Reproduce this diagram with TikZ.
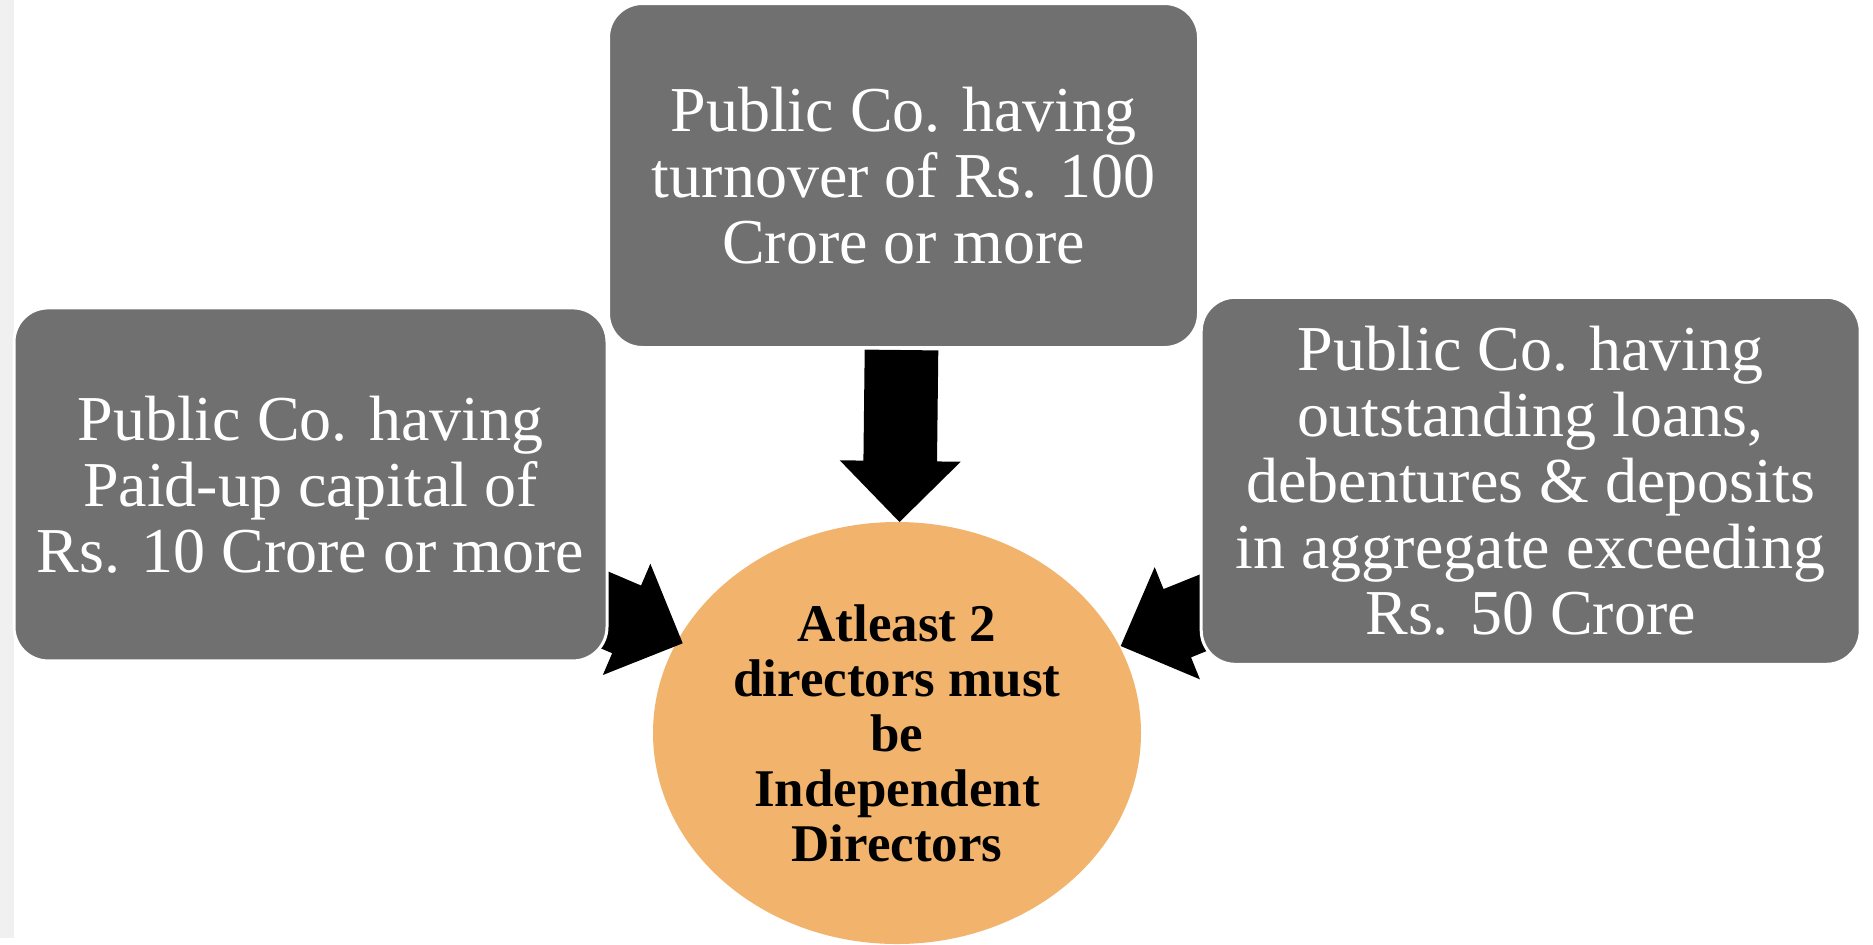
\documentclass[tikz,border=0pt]{standalone}
\usepackage{fontspec}
\setmainfont{Liberation Serif}
\usetikzlibrary{calc,shapes.geometric}
\definecolor{boxgray}{HTML}{707070}
\definecolor{orangefill}{HTML}{F2B46C}
\definecolor{stripgray}{HTML}{F0F0F0}
\tikzset{
  infobox/.style={fill=boxgray, draw=white, line width=1.5pt, rounded corners=17pt,
    text=white, align=center, inner sep=0pt, font=\fontsize{32}{33}\selectfont},
  centreoval/.style={ellipse, fill=orangefill, inner sep=0pt, align=center,
    font=\bfseries\fontsize{26.5}{27.5}\selectfont, minimum width=244pt, minimum height=211pt},
  arrowfill/.style={fill=black},
}
% #1 start, #2 tip, #3 name for base point
\newcommand{\drawblockarrow}[3]{%
  \coordinate (#3) at ($(#2)!30.5pt!(#1)$);
  \fill[arrowfill] ($(#1)!18.4pt!90:(#2)$) -- ($(#3)!18.4pt!90:(#2)$)
    -- ($(#3)!30.25pt!90:(#2)$) -- (#2) -- ($(#3)!30.25pt!-90:(#2)$)
    -- ($(#3)!18.4pt!-90:(#2)$) -- ($(#1)!18.4pt!-90:(#2)$) -- cycle;}
\begin{document}
\begin{tikzpicture}[x=0.5pt,y=-0.5pt]
  \useasboundingbox (0,0) rectangle (1873,944);
  \fill[white] (0,0) rectangle (1873,944);
  \fill[stripgray] (0,0) rectangle (14,938);
  % centres
  \coordinate (Lc) at (310.5,484.4);
  \coordinate (Tc) at (903.5,175.5);
  \coordinate (Rc) at (1530.7,480.8);
  % central ellipse
  \node[centreoval] (C) at (897,733) {Atleast 2\\directors must\\be\\Independent\\Directors};
  % arrows
  \coordinate (tS) at (901.5,350);
  \coordinate (tE) at (899.5,522);
  \coordinate (lE) at (682.7,643.3);
  \coordinate (rE) at (1120.7,646);
  \drawblockarrow{tS}{tE}{tB}
  \drawblockarrow{Lc}{lE}{lB}
  \drawblockarrow{Rc}{rE}{rB}
  % boxes
  \node[infobox, minimum width=296.5pt, minimum height=176.5pt] (L) at (Lc)
    {Public Co. having\\Paid-up capital of\\Rs. 10 Crore or more};
  \node[infobox, minimum width=295pt, minimum height=172pt] (T) at (Tc)
    {Public Co. having\\turnover of Rs. 100\\Crore or more};
  \node[infobox, minimum width=329.5pt, minimum height=183.5pt] (R) at (Rc)
    {Public Co. having\\outstanding loans,\\debentures \& deposits\\in aggregate exceeding\\Rs. 50 Crore};
\end{tikzpicture}
\end{document}
